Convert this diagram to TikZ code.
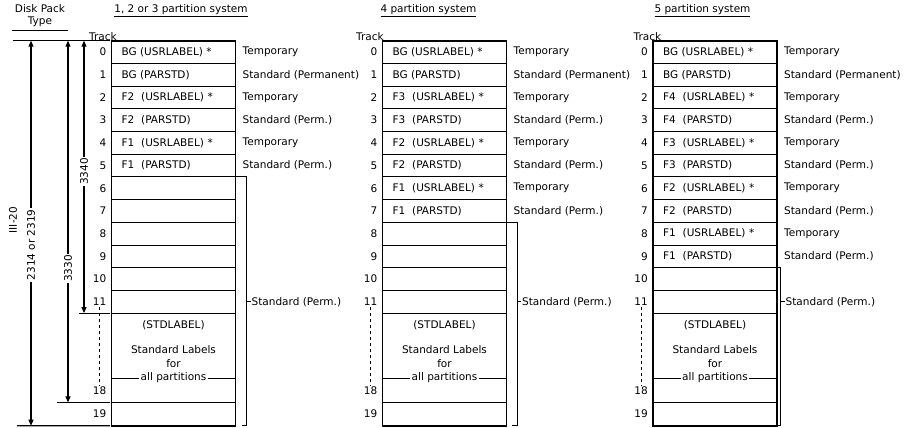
\documentclass[tikz,border=0pt]{standalone}
\usepackage{fontspec}
\setmainfont{DejaVu Sans}
\usetikzlibrary{arrows.meta,calc,positioning}
\tikzset{
  cell/.style={draw,line width=1pt,anchor=north west,outer sep=0pt,
    minimum height=22.7pt,text width=104pt,inner xsep=10pt,inner ysep=0pt,
    align=left,font=\fontsize{10.5}{12}\selectfont},
  tracknum/.style={inner sep=1pt,font=\fontsize{10.5}{12}\selectfont},
  rowlabel/.style={inner sep=1pt,anchor=west,font=\fontsize{10.5}{12}\selectfont},
  blocktext/.style={inner sep=1pt,font=\fontsize{10.5}{12}\selectfont},
  heading/.style={inner sep=1pt,font=\fontsize{10.5}{12}\selectfont},
  outline/.style={line width=1.8pt},
  bracket/.style={line width=1pt},
  dimline/.style={line width=1.1pt},
  dimarrow/.style={{Triangle[length=6pt,width=5pt]}-{Triangle[length=6pt,width=5pt]},
    line width=1.1pt},
  dimlabel/.style={fill=white,rotate=90,inner sep=1.5pt,
    font=\fontsize{10.5}{12}\selectfont}
}
\begin{document}
\begin{tikzpicture}[x=1pt,y=-1pt]
  \useasboundingbox[fill=white] (0,0) rectangle (906,428);

  % disk pack type dimensions
  \node[heading,align=center,inner ysep=3pt,inner xsep=3pt] (disktype) at (40,16) {Disk Pack\\Type};
  \draw[dimline] (disktype.south west) -- (disktype.south east);
  \node[dimlabel,fill=none] (figid) at (13,220) {III-20};

  % ---- 1, 2 or 3 partition system ----
  \node[heading] (atitle) at (181,11) {\underline{1, 2 or 3 partition system}};
  \foreach \i/\txt/\lab in {0/{BG (USRLABEL) *}/Temporary,
      1/{BG (PARSTD)}/{Standard (Permanent)},
      2/{F2\ \ (USRLABEL) *}/Temporary,
      3/{F2\ \ (PARSTD)}/{Standard (Perm.)},
      4/{F1\ \ (USRLABEL) *}/Temporary,
      5/{F1\ \ (PARSTD)}/{Standard (Perm.)}}{
    \node[cell] (a\i) at (111.5,{40.7+22.7*\i}) {\txt};
    \node[rowlabel,right=6pt of a\i] (alab\i) {\lab};
  }
  \foreach \i in {6,...,11}
    \node[cell] (a\i) at (111.5,{40.7+22.7*\i}) {};
  \foreach \i in {0,...,11}
    \node[tracknum,left=4pt of a\i] (anum\i) {\i};
  \node[cell,minimum height=89.3pt] (ablk) at (111.5,313.1) {};
  \node[cell,minimum height=23.3pt] (a19) at (111.5,402.4) {};
  \node[blocktext] (astd) at ($(ablk.north)+(0,12)$) {(STDLABEL)};
  \node[blocktext] (alabels) at ($(ablk.north)+(0,36)$) {Standard Labels};
  \node[blocktext] (afor) at ($(ablk.north)+(0,50)$) {for};
  \node[blocktext] (aall) at ($(ablk.north)+(0,65)$) {all partitions};
  \draw[bracket] (ablk.west |- aall) -- (aall.west);
  \draw[bracket] (aall.east) -- (ablk.east |- aall);
  \node[tracknum,anchor=east] (anum18) at ($(ablk.south west)+(-4,-12)$) {18};
  \node[tracknum,left=4pt of a19] (anum19) {19};
  \draw[dashed] (anum11.south) -- (anum18.north);
  \node[heading,above=5pt of anum0] (atrack) {Track};
  \draw[outline] (a0.north west) rectangle (a19.south east);
  \coordinate (abr) at ($(a19.south east)+(11,0)$);
  \draw[bracket] (a6.north east) -| (abr) -- ++(-5,0);
  \node[rowlabel] (aperm) at ($(abr |- a11)+(4,0)$) {Standard (Perm.)};
  \draw[bracket] (abr |- aperm) -- (aperm.west);

  % dimension lines
  \coordinate (dimtop) at (13,40.7);
  \coordinate (dim1) at (17,425.7);
  \coordinate (dim2) at (57,402.4);
  \coordinate (dim3) at (79,313.1);
  \draw[dimline] (dimtop) -- ($(a0.north west)+(-1.5,0)$);
  \draw[dimline] (dim1) -- ($(a19.south west)+(-1.5,0)$);
  \draw[dimline] (dim2) -- ($(a19.north west)+(-1.5,0)$);
  \draw[dimline] (dim3) -- ($(ablk.north west)+(-1.5,0)$);
  \draw[dimarrow] (dimtop -| 31,0) -- (dim1 -| 31,0)
    node[dimlabel,pos=0.53] (d2314) {2314 or 2319};
  \draw[dimarrow] (dimtop -| 68,0) -- (dim2 -| 68,0)
    node[dimlabel,pos=0.63] (d3330) {3330};
  \draw[dimarrow] (dimtop -| 84,0) -- (dim3 -| 84,0)
    node[dimlabel,pos=0.48] (d3340) {3340};

  % ---- 4 partition system ----
  \node[heading] (btitle) at (428.5,11) {\underline{4 partition system}};
  \foreach \i/\txt/\lab in {0/{BG (USRLABEL) *}/Temporary,
      1/{BG (PARSTD)}/{Standard (Permanent)},
      2/{F3\ \ (USRLABEL) *}/Temporary,
      3/{F3\ \ (PARSTD)}/{Standard (Perm.)},
      4/{F2\ \ (USRLABEL) *}/Temporary,
      5/{F2\ \ (PARSTD)}/{Standard (Perm.)},
      6/{F1\ \ (USRLABEL) *}/Temporary,
      7/{F1\ \ (PARSTD)}/{Standard (Perm.)}}{
    \node[cell] (b\i) at (382.5,{40.7+22.7*\i}) {\txt};
    \node[rowlabel,right=6pt of b\i] (blab\i) {\lab};
  }
  \foreach \i in {8,...,11}
    \node[cell] (b\i) at (382.5,{40.7+22.7*\i}) {};
  \foreach \i in {0,...,11}
    \node[tracknum,left=4pt of b\i] (bnum\i) {\i};
  \node[cell,minimum height=89.3pt] (bblk) at (382.5,313.1) {};
  \node[cell,minimum height=23.3pt] (b19) at (382.5,402.4) {};
  \node[blocktext] (bstd) at ($(bblk.north)+(0,12)$) {(STDLABEL)};
  \node[blocktext] (blabels) at ($(bblk.north)+(0,36)$) {Standard Labels};
  \node[blocktext] (bfor) at ($(bblk.north)+(0,50)$) {for};
  \node[blocktext] (ball) at ($(bblk.north)+(0,65)$) {all partitions};
  \draw[bracket] (bblk.west |- ball) -- (ball.west);
  \draw[bracket] (ball.east) -- (bblk.east |- ball);
  \node[tracknum,anchor=east] (bnum18) at ($(bblk.south west)+(-4,-12)$) {18};
  \node[tracknum,left=4pt of b19] (bnum19) {19};
  \draw[dashed] (bnum11.south) -- (bnum18.north);
  \node[heading,above=5pt of bnum0,xshift=-4pt] (btrack) {Track};
  \draw[outline] (b0.north west) rectangle (b19.south east);
  \coordinate (bbr) at ($(b19.south east)+(10.5,0)$);
  \draw[bracket] (b8.north east) -| (bbr) -- ++(-5,0);
  \node[rowlabel] (bperm) at ($(bbr |- b11)+(4,0)$) {Standard (Perm.)};
  \draw[bracket] (bbr |- bperm) -- (bperm.west);

  % ---- 5 partition system ----
  \node[heading] (ctitle) at (702.5,11) {\underline{5 partition system}};
  \foreach \i/\txt/\lab in {0/{BG (USRLABEL) *}/Temporary,
      1/{BG (PARSTD)}/{Standard (Permanent)},
      2/{F4\ \ (USRLABEL) *}/Temporary,
      3/{F4\ \ (PARSTD)}/{Standard (Perm.)},
      4/{F3\ \ (USRLABEL) *}/Temporary,
      5/{F3\ \ (PARSTD)}/{Standard (Perm.)},
      6/{F2\ \ (USRLABEL) *}/Temporary,
      7/{F2\ \ (PARSTD)}/{Standard (Perm.)},
      8/{F1\ \ (USRLABEL) *}/Temporary,
      9/{F1\ \ (PARSTD)}/{Standard (Perm.)}}{
    \node[cell] (c\i) at (653,{40.7+22.7*\i}) {\txt};
    \node[rowlabel,right=6pt of c\i] (clab\i) {\lab};
  }
  \foreach \i in {10,11}
    \node[cell] (c\i) at (653,{40.7+22.7*\i}) {};
  \foreach \i in {0,...,11}
    \node[tracknum,left=4pt of c\i] (cnum\i) {\i};
  \node[cell,minimum height=89.3pt] (cblk) at (653,313.1) {};
  \node[cell,minimum height=23.3pt] (c19) at (653,402.4) {};
  \node[blocktext] (cstd) at ($(cblk.north)+(0,12)$) {(STDLABEL)};
  \node[blocktext] (clabels) at ($(cblk.north)+(0,36)$) {Standard Labels};
  \node[blocktext] (cfor) at ($(cblk.north)+(0,50)$) {for};
  \node[blocktext] (call) at ($(cblk.north)+(0,65)$) {all partitions};
  \draw[bracket] (cblk.west |- call) -- (call.west);
  \draw[bracket] (call.east) -- (cblk.east |- call);
  \node[tracknum,anchor=east] (cnum18) at ($(cblk.south west)+(-4,-12)$) {18};
  \node[tracknum,left=4pt of c19] (cnum19) {19};
  \draw[dashed] (cnum11.south) -- (cnum18.north);
  \node[heading,above=5pt of cnum0,xshift=3pt] (ctrack) {Track};
  \draw[outline] (c0.north west) rectangle (c19.south east);
  \coordinate (cbr) at ($(c19.south east)+(3.5,0)$);
  \draw[bracket] (c10.north east) -| (cbr) -- (c19.south east);
  \node[rowlabel] (cperm) at ($(cbr |- c11)+(4,0)$) {Standard (Perm.)};
  \draw[bracket] (cbr |- cperm) -- (cperm.west);
\end{tikzpicture}
\end{document}
